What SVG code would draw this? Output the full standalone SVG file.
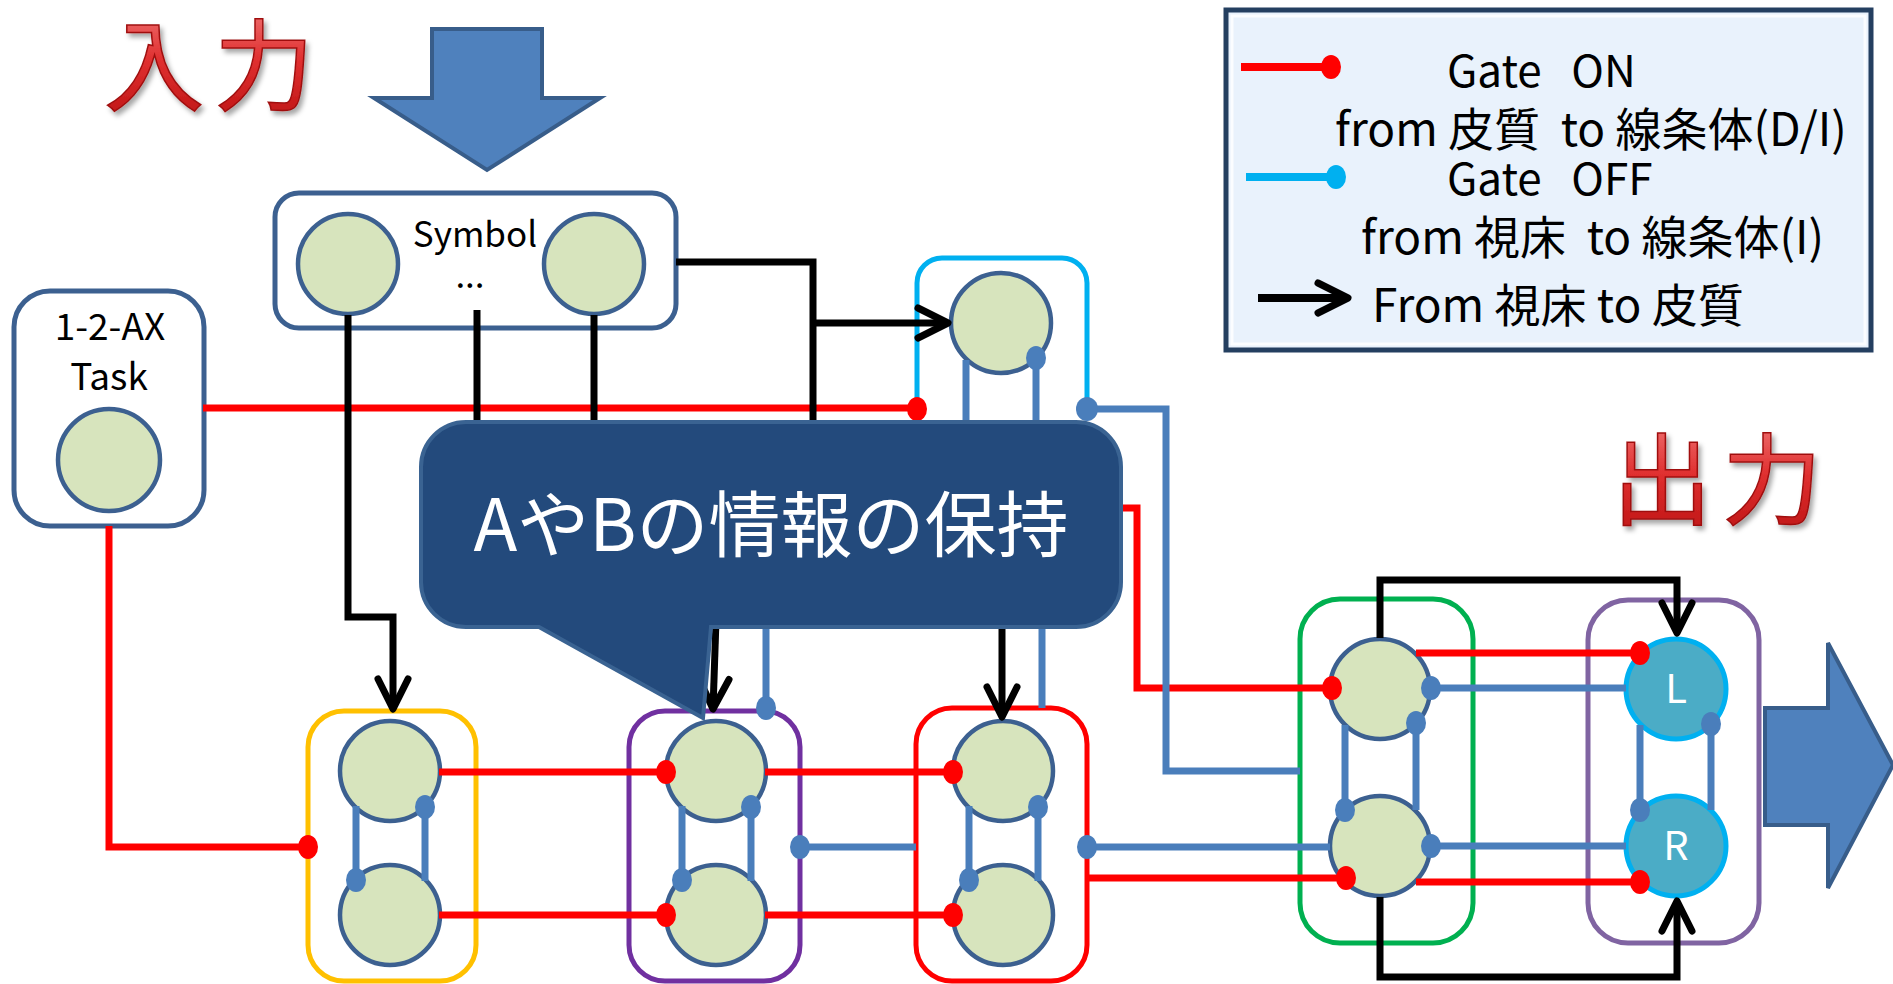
<svg xmlns="http://www.w3.org/2000/svg" width="1893" height="984" viewBox="0 0 1893 984">
<style>
.t{font-family:"Noto Sans CJK JP","Noto Sans",sans-serif;fill:#000}
.box{fill:none;stroke-width:5}
.n{fill:#D7E4BD;stroke:#3C6090;stroke-width:4.5}
.r{fill:none;stroke:#FF0000;stroke-width:7}
.b{fill:none;stroke:#4A7EBB;stroke-width:7}
.k{fill:none;stroke:#000;stroke-width:7}
.rd{fill:#FF0000}
.bd{fill:#4A7EBB}
.big{fill:url(#rg);stroke:#A01010;stroke-width:1.5;font-family:"Noto Sans CJK JP",sans-serif;font-size:100px;font-weight:400;filter:url(#sh)}
</style>
<defs>
<linearGradient id="rg" x1="0" y1="0" x2="0" y2="1">
<stop offset="0" stop-color="#F48A8A"/>
<stop offset="0.5" stop-color="#E03030"/>
<stop offset="1" stop-color="#B81010"/>
</linearGradient>
<filter id="sh" filterUnits="userSpaceOnUse" x="0" y="0" width="1893" height="984">
<feDropShadow dx="3" dy="4" stdDeviation="2.5" flood-color="#000" flood-opacity="0.35"/>
</filter>
<marker id="ar" markerUnits="userSpaceOnUse" markerWidth="60" markerHeight="60" viewBox="-45 -30 60 60" refX="0" refY="0" orient="auto" overflow="visible">
<path d="M-30,-15 L0,0 L-30,15" fill="none" stroke="#000" stroke-width="7" stroke-linecap="round" stroke-linejoin="round"/>
</marker>
</defs>
<rect width="1893" height="984" fill="#fff"/>

<g id="title-in"><text class="big" x="104" y="103" letter-spacing="10">入力</text></g>
<g id="title-out"><text class="big" x="1612" y="517" letter-spacing="10">出力</text></g>

<g id="arrow-in"><polygon points="432,29 542,29 542,98 600,98 487,170 374,98 432,98" fill="#4F81BD" stroke="#385D8A" stroke-width="4"/></g>
<g id="arrow-out"><polygon points="1765,708 1828,708 1828,643 1893,765 1828,888 1828,825 1765,825" fill="#4F81BD" stroke="#385D8A" stroke-width="4"/></g>

<g id="legend">
<rect x="1226" y="10" width="645" height="340" fill="#E9F2FC" stroke="#243F60" stroke-width="5"/>
<rect x="1232" y="16" width="633" height="328" fill="none" stroke="#FFFFFF" stroke-width="3" opacity="0.8"/>
<line x1="1241" y1="67" x2="1328" y2="67" stroke="#FF0000" stroke-width="8"/>
<ellipse cx="1331" cy="67" rx="10" ry="12" class="rd"/>
<line x1="1246" y1="177" x2="1333" y2="177" stroke="#00B0F0" stroke-width="8"/>
<ellipse cx="1336" cy="177" rx="10" ry="12" fill="#00B0F0"/>
<line x1="1258" y1="298" x2="1348" y2="298" stroke="#000" stroke-width="8" marker-end="url(#ar)"/>
<text class="t" x="1447" y="87" font-size="44" xml:space="preserve">Gate   ON</text>
<text class="t" x="1335" y="146" font-size="46" xml:space="preserve">from 皮質  to 線条体(D/I)</text>
<text class="t" x="1447" y="195" font-size="44" xml:space="preserve">Gate   OFF</text>
<text class="t" x="1361" y="254" font-size="46" xml:space="preserve">from 視床  to 線条体(I)</text>
<text class="t" x="1372" y="322" font-size="46" xml:space="preserve">From 視床 to 皮質</text>
</g>

<g id="symbol">
<rect x="275" y="193" width="401" height="135" rx="24" class="box" stroke="#3C6090"/>
<circle cx="348" cy="264" r="50" class="n"/>
<circle cx="594" cy="264" r="50" class="n"/>
<text class="t" x="475" y="247" font-size="35" text-anchor="middle">Symbol</text>
<text class="t" x="470" y="288" font-size="35" text-anchor="middle">...</text>
</g>

<g id="task">
<rect x="14" y="291" width="190" height="235" rx="36" class="box" stroke="#3C6090"/>
<text class="t" x="110" y="340" font-size="37" text-anchor="middle">1-2-AX</text>
<text class="t" x="109" y="390" font-size="37" text-anchor="middle">Task</text>
<circle cx="109" cy="460" r="51" class="n"/>
</g>

<g id="gate-cyan">
<path d="M917,409 V283 A25,25 0 0 1 942,258 H1062 A25,25 0 0 1 1087,283 V409" class="box" stroke="#00B0F0"/>
<circle cx="1001" cy="323" r="50" class="n" stroke="#8064A2"/>
</g>

<g id="pair-yellow">
<rect x="308" y="711" width="168" height="270" rx="36" class="box" stroke="#FFC000"/>
<circle cx="390" cy="771" r="50" class="n"/>
<circle cx="390" cy="915" r="50" class="n"/>
</g>

<g id="pair-purple">
<rect x="629" y="711" width="171" height="270" rx="36" class="box" stroke="#7030A0"/>
<circle cx="716" cy="771" r="50" class="n"/>
<circle cx="716" cy="915" r="50" class="n"/>
</g>

<g id="pair-red">
<rect x="916" y="708" width="171" height="273" rx="36" class="box" stroke="#FF0000"/>
<circle cx="1003" cy="771" r="50" class="n"/>
<circle cx="1003" cy="915" r="50" class="n"/>
</g>

<g id="pair-green">
<rect x="1300" y="599" width="173" height="344" rx="40" class="box" stroke="#00B050"/>
<circle cx="1380" cy="689" r="50" class="n"/>
<circle cx="1380" cy="846" r="50" class="n"/>
</g>

<g id="output">
<rect x="1588" y="600" width="171" height="343" rx="40" class="box" stroke="#8064A2"/>
<circle cx="1676" cy="689" r="50" fill="#4BACC6" stroke="#00B0F0" stroke-width="5"/>
<circle cx="1676" cy="846" r="50" fill="#4BACC6" stroke="#00B0F0" stroke-width="5"/>
<text class="t" x="1676" y="703" font-size="40" text-anchor="middle" style="fill:#fff">L</text>
<text class="t" x="1676" y="860" font-size="40" text-anchor="middle" style="fill:#fff">R</text>
</g>

<g id="connectors">
<path class="r" d="M203,408 H917"/>
<path class="r" d="M109,526 V847 H308"/>
<path class="r" d="M439,772 H666"/>
<path class="r" d="M439,915 H666"/>
<path class="r" d="M765,772 H953"/>
<path class="r" d="M765,915 H953"/>
<path class="r" d="M1087,878 H1346"/>
<path class="r" d="M1121,508 H1137 V688 H1332"/>
<path class="r" d="M1416,653 H1640"/>
<path class="r" d="M1416,882 H1640"/>

<path class="b" d="M966,360 V425"/>
<path class="b" d="M1036,358 V425"/>
<path class="b" d="M1087,409 H1166 V771 H1300"/>
<path class="b" d="M766,625 V708"/>
<path class="b" d="M1042,625 V708"/>
<path class="b" d="M356,806 V880"/>
<path class="b" d="M425,807 V881"/>
<path class="b" d="M682,806 V880"/>
<path class="b" d="M751,807 V881"/>
<path class="b" d="M969,806 V880"/>
<path class="b" d="M1038,807 V881"/>
<path class="b" d="M800,847 H916"/>
<path class="b" d="M1087,847 H1330"/>
<path class="b" d="M1345,725 V810"/>
<path class="b" d="M1416,723 V810"/>
<path class="b" d="M1431,688 H1626"/>
<path class="b" d="M1431,846 H1626"/>
<path class="b" d="M1640,725 V810"/>
<path class="b" d="M1711,724 V810"/>

<path class="k" d="M348,315 V617 H393 V709" marker-end="url(#ar)"/>
<path class="k" d="M477,310 V425"/>
<path class="k" d="M594,315 V425"/>
<path class="k" d="M676,262 H813 V425"/>
<path class="k" d="M813,323 H948" marker-end="url(#ar)"/>
<path class="k" d="M716,620 L713,709" marker-end="url(#ar)"/>
<path class="k" d="M1002,620 V717" marker-end="url(#ar)"/>
<path class="k" d="M1380,638 V580 H1677 V633" marker-end="url(#ar)"/>
<path class="k" d="M1380,897 V977 H1677 V901" marker-end="url(#ar)"/>

<ellipse class="rd" cx="917" cy="409" rx="10" ry="12"/>
<ellipse class="rd" cx="308" cy="847" rx="10" ry="12"/>
<ellipse class="rd" cx="666" cy="772" rx="10" ry="12"/>
<ellipse class="rd" cx="666" cy="915" rx="10" ry="12"/>
<ellipse class="rd" cx="953" cy="772" rx="10" ry="12"/>
<ellipse class="rd" cx="953" cy="915" rx="10" ry="12"/>
<ellipse class="rd" cx="1346" cy="878" rx="10" ry="12"/>
<ellipse class="rd" cx="1332" cy="688" rx="10" ry="12"/>
<ellipse class="rd" cx="1640" cy="653" rx="10" ry="12"/>
<ellipse class="rd" cx="1640" cy="882" rx="10" ry="12"/>

<ellipse class="bd" cx="1036" cy="358" rx="10" ry="12"/>
<ellipse class="bd" cx="1087" cy="409" rx="11" ry="12"/>
<ellipse class="bd" cx="766" cy="708" rx="10" ry="12"/>
<ellipse class="bd" cx="356" cy="880" rx="10" ry="12"/>
<ellipse class="bd" cx="425" cy="807" rx="10" ry="12"/>
<ellipse class="bd" cx="682" cy="880" rx="10" ry="12"/>
<ellipse class="bd" cx="751" cy="807" rx="10" ry="12"/>
<ellipse class="bd" cx="969" cy="880" rx="10" ry="12"/>
<ellipse class="bd" cx="1038" cy="807" rx="10" ry="12"/>
<ellipse class="bd" cx="800" cy="847" rx="10" ry="12"/>
<ellipse class="bd" cx="1087" cy="847" rx="10" ry="12"/>
<ellipse class="bd" cx="1345" cy="810" rx="10" ry="12"/>
<ellipse class="bd" cx="1416" cy="723" rx="10" ry="12"/>
<ellipse class="bd" cx="1431" cy="688" rx="10" ry="12"/>
<ellipse class="bd" cx="1431" cy="846" rx="10" ry="12"/>
<ellipse class="bd" cx="1640" cy="810" rx="10" ry="12"/>
<ellipse class="bd" cx="1711" cy="724" rx="10" ry="12"/>
</g>

<g id="callout">
<path d="M466,422 H1076 A45,45 0 0 1 1121,467 V582 A45,45 0 0 1 1076,627 H711 L703,718 L539,627 H466 A45,45 0 0 1 421,582 V467 A45,45 0 0 1 466,422 Z" fill="#234A7C" stroke="#3A6392" stroke-width="4"/>
<text class="t" x="771" y="551" font-size="72" text-anchor="middle" style="fill:#fff">AやBの情報の保持</text>
</g>
</svg>
